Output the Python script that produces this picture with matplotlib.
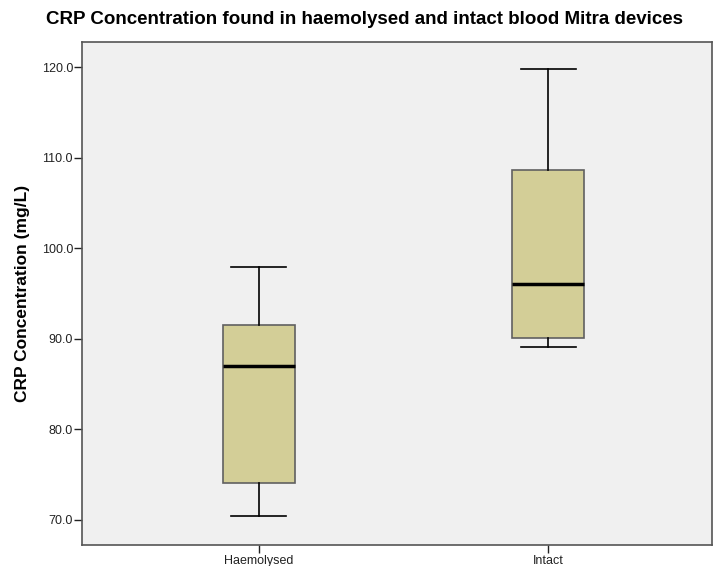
import matplotlib
matplotlib.use("Agg")
import matplotlib.pyplot as plt

plt.rcParams['font.family'] = ['Liberation Sans', 'DejaVu Sans']

groups = ["Haemolysed", "Intact"]
whisker_low = [70.4, 89.1]
q1 = [74.0, 90.1]
median = [87.0, 96.0]
q3 = [91.5, 108.7]
whisker_high = [97.9, 119.8]
yticks = [70.0, 80.0, 90.0, 100.0, 110.0, 120.0]

stats = []
for i, g in enumerate(groups):
    stats.append(dict(label=g, whislo=whisker_low[i], q1=q1[i], med=median[i],
                      q3=q3[i], whishi=whisker_high[i], fliers=[]))

fig = plt.figure(figsize=(7.13, 5.66), dpi=100)
ax = fig.add_axes([82 / 713, 1 - 545 / 566, (712 - 82) / 713, (545 - 42) / 566])
ax.set_facecolor("#f0f0f0")

ax.bxp(stats, positions=[1, 2], widths=0.25, patch_artist=True, showfliers=False,
       boxprops=dict(facecolor="#d3ce97", edgecolor="#606060", linewidth=1.2),
       medianprops=dict(color="black", linewidth=2.5),
       whiskerprops=dict(color="black", linewidth=1.2),
       capprops=dict(color="black", linewidth=1.2),
       capwidths=0.19)

ax.set_xlim(0.388, 2.567)
ax.set_ylim(67.2, 122.8)
ax.set_yticks(yticks)
ax.set_yticklabels([f"{t:.1f}" for t in yticks])
ax.set_xticks([1, 2])
ax.set_xticklabels(groups)
ax.tick_params(axis='both', labelsize=9, colors="#222222", length=5.5, width=1)
ax.tick_params(axis='y', pad=1)
ax.tick_params(axis='x', pad=2)
for s in ax.spines.values():
    s.set_color("#555555")
    s.set_linewidth(1.2)

ax.set_ylabel("CRP Concentration (mg/L)", fontsize=12.5, fontweight="bold", labelpad=8)
fig.text(364 / 713, 1 - 20 / 566, "CRP Concentration found in haemolysed and intact blood Mitra devices",
         ha="center", va="center", fontsize=13.5, fontweight="bold")

fig.savefig("out.png", dpi=100)
